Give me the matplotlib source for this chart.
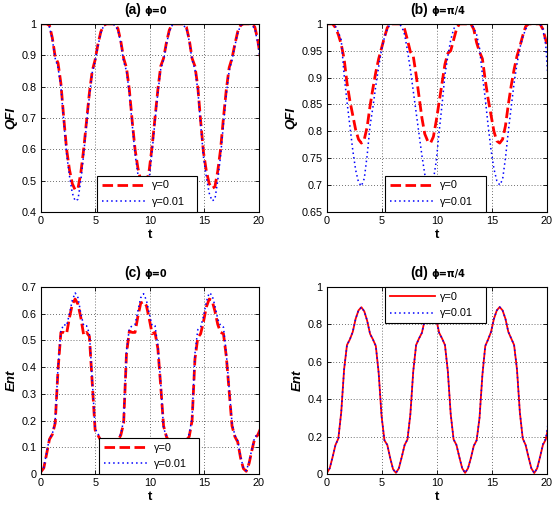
import numpy as np
import matplotlib
matplotlib.use("Agg")
import matplotlib.pyplot as plt

plt.rcParams['font.family'] = ['Liberation Sans', 'DejaVu Sans']

t = np.arange(78) * np.pi / 12

qfi_a_g0 = [1.0, 1.0, 1.0, 0.995, 0.955, 0.895, 0.875, 0.81, 0.70, 0.60, 0.535, 0.49,
            0.47, 0.475, 0.525, 0.60, 0.69, 0.78, 0.85, 0.885, 0.935, 0.975, 0.995, 1.0,
            1.0, 1.0, 1.0, 0.985, 0.945, 0.89, 0.86, 0.79, 0.69, 0.60, 0.54, 0.50,
            0.48, 0.49, 0.535, 0.61, 0.70, 0.79, 0.865, 0.89, 0.94, 0.98, 1.0, 1.0,
            1.0, 1.0, 1.0, 0.99, 0.95, 0.89, 0.865, 0.80, 0.69, 0.59, 0.53, 0.49,
            0.475, 0.48, 0.53, 0.60, 0.70, 0.79, 0.86, 0.89, 0.935, 0.975, 0.995, 1.0,
            1.0, 1.0, 1.0, 0.99, 0.95, 0.89]
qfi_a_g001 = [1.0, 1.0, 1.0, 0.99, 0.95, 0.89, 0.86, 0.80, 0.69, 0.585, 0.515, 0.46,
              0.435, 0.44, 0.50, 0.585, 0.68, 0.77, 0.845, 0.88, 0.93, 0.97, 0.995, 1.0,
              1.0, 1.0, 0.995, 0.98, 0.94, 0.88, 0.85, 0.78, 0.68, 0.585, 0.52, 0.47,
              0.445, 0.45, 0.51, 0.595, 0.69, 0.78, 0.855, 0.885, 0.935, 0.975, 0.995, 1.0,
              1.0, 1.0, 0.995, 0.985, 0.945, 0.885, 0.855, 0.79, 0.68, 0.575, 0.51, 0.46,
              0.435, 0.44, 0.50, 0.58, 0.68, 0.775, 0.85, 0.885, 0.93, 0.97, 0.995, 1.0,
              1.0, 1.0, 0.995, 0.985, 0.94, 0.88]

qfi_b_g0 = [1.0, 1.0, 1.0, 0.993, 0.98, 0.962, 0.935, 0.89, 0.857, 0.83, 0.803, 0.785,
            0.778, 0.785, 0.808, 0.847, 0.88, 0.91, 0.935, 0.955, 0.975, 0.993, 1.0, 1.0,
            1.0, 1.0, 1.0, 0.99, 0.97, 0.948, 0.94, 0.905, 0.865, 0.825, 0.795, 0.782,
            0.778, 0.79, 0.82, 0.855, 0.89, 0.925, 0.945, 0.95, 0.97, 0.99, 1.0, 1.0,
            1.0, 1.0, 1.0, 0.99, 0.965, 0.948, 0.935, 0.895, 0.86, 0.83, 0.80, 0.782,
            0.778, 0.785, 0.81, 0.85, 0.885, 0.915, 0.94, 0.958, 0.978, 0.995, 1.0, 1.0,
            1.0, 1.0, 1.0, 0.99, 0.97, 0.95]
qfi_b_g001 = [1.0, 1.0, 1.0, 0.995, 0.985, 0.97, 0.905, 0.855, 0.81, 0.765, 0.728, 0.705,
              0.698, 0.712, 0.755, 0.81, 0.845, 0.885, 0.92, 0.952, 0.975, 0.99, 1.0, 1.0,
              1.0, 1.0, 0.995, 0.98, 0.95, 0.915, 0.875, 0.835, 0.795, 0.755, 0.72, 0.70,
              0.698, 0.71, 0.745, 0.80, 0.85, 0.905, 0.94, 0.97, 0.99, 1.0, 1.0, 1.0,
              1.0, 1.0, 1.0, 0.993, 0.98, 0.955, 0.905, 0.86, 0.81, 0.765, 0.73, 0.708,
              0.70, 0.71, 0.75, 0.80, 0.845, 0.89, 0.925, 0.955, 0.975, 0.99, 1.0, 1.0,
              1.0, 1.0, 1.0, 0.99, 0.96, 0.88]

ent_c_g0 = [0.008, 0.022, 0.075, 0.13, 0.148, 0.19, 0.39, 0.53, 0.53, 0.525, 0.585, 0.635,
            0.655, 0.635, 0.585, 0.52, 0.53, 0.515, 0.34, 0.165, 0.145, 0.125, 0.075, 0.022,
            0.008, 0.022, 0.07, 0.125, 0.145, 0.19, 0.45, 0.535, 0.53, 0.53, 0.59, 0.64,
            0.645, 0.63, 0.58, 0.525, 0.53, 0.47, 0.33, 0.18, 0.14, 0.12, 0.07, 0.02,
            0.008, 0.025, 0.075, 0.125, 0.14, 0.20, 0.43, 0.51, 0.525, 0.57, 0.625, 0.655,
            0.65, 0.61, 0.56, 0.53, 0.525, 0.44, 0.31, 0.18, 0.14, 0.12, 0.06, 0.02,
            0.01, 0.04, 0.09, 0.135, 0.145, 0.17]
ent_c_g001 = [0.008, 0.025, 0.08, 0.135, 0.15, 0.20, 0.40, 0.535, 0.56, 0.555, 0.60, 0.65,
              0.678, 0.66, 0.60, 0.555, 0.555, 0.525, 0.35, 0.17, 0.15, 0.13, 0.08, 0.025,
              0.008, 0.025, 0.075, 0.13, 0.15, 0.20, 0.46, 0.545, 0.555, 0.56, 0.61, 0.66,
              0.675, 0.65, 0.60, 0.555, 0.555, 0.48, 0.34, 0.17, 0.145, 0.125, 0.075, 0.022,
              0.008, 0.028, 0.08, 0.13, 0.15, 0.21, 0.45, 0.54, 0.55, 0.59, 0.645, 0.678,
              0.67, 0.63, 0.58, 0.555, 0.55, 0.45, 0.32, 0.19, 0.145, 0.125, 0.065, 0.022,
              0.012, 0.045, 0.095, 0.14, 0.145, 0.16]

ent_d_g0 = [0.005, 0.03, 0.09, 0.155, 0.19, 0.33, 0.56, 0.69, 0.72, 0.76, 0.83, 0.875,
            0.892, 0.87, 0.82, 0.75, 0.72, 0.685, 0.54, 0.31, 0.18, 0.155, 0.085, 0.025,
            0.006, 0.03, 0.09, 0.155, 0.185, 0.32, 0.55, 0.69, 0.725, 0.755, 0.825, 0.873,
            0.892, 0.873, 0.825, 0.755, 0.725, 0.69, 0.55, 0.32, 0.185, 0.155, 0.09, 0.03,
            0.006, 0.03, 0.085, 0.15, 0.18, 0.30, 0.53, 0.685, 0.72, 0.76, 0.83, 0.875,
            0.893, 0.875, 0.83, 0.76, 0.725, 0.69, 0.56, 0.33, 0.19, 0.155, 0.09, 0.03,
            0.005, 0.03, 0.09, 0.155, 0.185, 0.26]
ent_d_g001 = [0.005, 0.03, 0.09, 0.155, 0.19, 0.33, 0.56, 0.69, 0.72, 0.76, 0.83, 0.875,
              0.892, 0.87, 0.82, 0.75, 0.72, 0.685, 0.54, 0.31, 0.18, 0.155, 0.085, 0.025,
              0.006, 0.03, 0.09, 0.155, 0.185, 0.32, 0.55, 0.69, 0.725, 0.755, 0.825, 0.873,
              0.892, 0.873, 0.825, 0.755, 0.725, 0.69, 0.55, 0.32, 0.185, 0.155, 0.09, 0.03,
              0.006, 0.03, 0.085, 0.15, 0.18, 0.30, 0.53, 0.685, 0.72, 0.76, 0.83, 0.875,
              0.893, 0.875, 0.83, 0.76, 0.725, 0.69, 0.56, 0.33, 0.19, 0.155, 0.09, 0.03,
              0.005, 0.03, 0.09, 0.16, 0.19, 0.29]

labels = ["\u03b3=0", "\u03b3=0.01"]
panels = [
    dict(pos=[0.074, 0.583, 0.394, 0.370], y0=qfi_a_g0, y1=qfi_a_g001, solid=False,
         ylim=(0.4, 1.0), yticks=[0.4, 0.5, 0.6, 0.7, 0.8, 0.9, 1.0],
         yticklabels=["0.4", "0.5", "0.6", "0.7", "0.8", "0.9", "1"],
         ylabel="QFI", tag="(a)", phi="\u03d5=0", leg=(0.257, 0.0, 0.459, 0.223), loc="lower left"),
    dict(pos=[0.591, 0.583, 0.398, 0.370], y0=qfi_b_g0, y1=qfi_b_g001, solid=False,
         ylim=(0.65, 1.0), yticks=[0.65, 0.7, 0.75, 0.8, 0.85, 0.9, 0.95, 1.0],
         yticklabels=["0.65", "0.7", "0.75", "0.8", "0.85", "0.9", "0.95", "1"],
         ylabel="QFI", tag="(b)", phi="\u03d5=\u03c0/4", leg=(0.264, 0.0, 0.459, 0.215), loc="lower left"),
    dict(pos=[0.074, 0.067, 0.394, 0.368], y0=ent_c_g0, y1=ent_c_g001, solid=False,
         ylim=(0.0, 0.7), yticks=[0, 0.1, 0.2, 0.3, 0.4, 0.5, 0.6, 0.7],
         yticklabels=["0", "0.1", "0.2", "0.3", "0.4", "0.5", "0.6", "0.7"],
         ylabel="Ent", tag="(c)", phi="\u03d5=0", leg=(0.266, 0.0, 0.459, 0.215), loc="lower left"),
    dict(pos=[0.591, 0.067, 0.398, 0.368], y0=ent_d_g0, y1=ent_d_g001, solid=True,
         ylim=(0.0, 1.0), yticks=[0, 0.2, 0.4, 0.6, 0.8, 1.0],
         yticklabels=["0", "0.2", "0.4", "0.6", "0.8", "1"],
         ylabel="Ent", tag="(d)", phi="\u03d5=\u03c0/4", leg=(0.264, 0.78, 0.459, 0.22), loc="upper left"),
]

fig = plt.figure(figsize=(5.53, 5.08), dpi=100)

for p in panels:
    ax = fig.add_axes(p["pos"])
    if p["solid"]:
        ax.plot(t, p["y0"], color="red", lw=1.3, label=labels[0])
    else:
        ax.plot(t, p["y0"], color="red", lw=2.0, dashes=(3.8, 1.6), label=labels[0])
    ax.plot(t, p["y1"], color="blue", lw=1.1, dashes=(1.0, 2.0), label=labels[1])

    ax.set_xlim(0, 20)
    ax.set_ylim(*p["ylim"])
    ax.set_xticks([0, 5, 10, 15, 20])
    ax.set_yticks(p["yticks"])
    ax.set_yticklabels(p["yticklabels"])
    ax.tick_params(direction="in", length=3, width=0.6, labelsize=7.8, top=True, right=True, pad=3)
    ax.grid(True, color="0.25", linestyle=(0, (1, 2.5)), linewidth=0.6)
    for s in ax.spines.values():
        s.set_linewidth(0.8)

    ax.set_xlabel("t", fontsize=9.5, fontweight="bold", labelpad=2)
    ax.set_ylabel(p["ylabel"], fontsize=9.5, fontweight="bold", fontstyle="italic", labelpad=3)

    ax.text(0.46, 1.055, p["tag"], transform=ax.transAxes, ha="right", va="baseline",
            fontsize=10, fontweight="bold")
    ax.text(0.475, 1.055, p["phi"], transform=ax.transAxes, ha="left", va="baseline",
            fontsize=7, fontweight="bold", family=["DejaVu Sans"])

    leg = ax.legend(loc=p["loc"], bbox_to_anchor=p["leg"], mode="expand", borderaxespad=0,
                    fontsize=7.8, handlelength=4.2, handletextpad=0.4, labelspacing=0.6,
                    fancybox=False, framealpha=1, edgecolor="black", borderpad=0.45)
    leg.get_frame().set_linewidth(0.8)

fig.savefig("out.png", dpi=100)
